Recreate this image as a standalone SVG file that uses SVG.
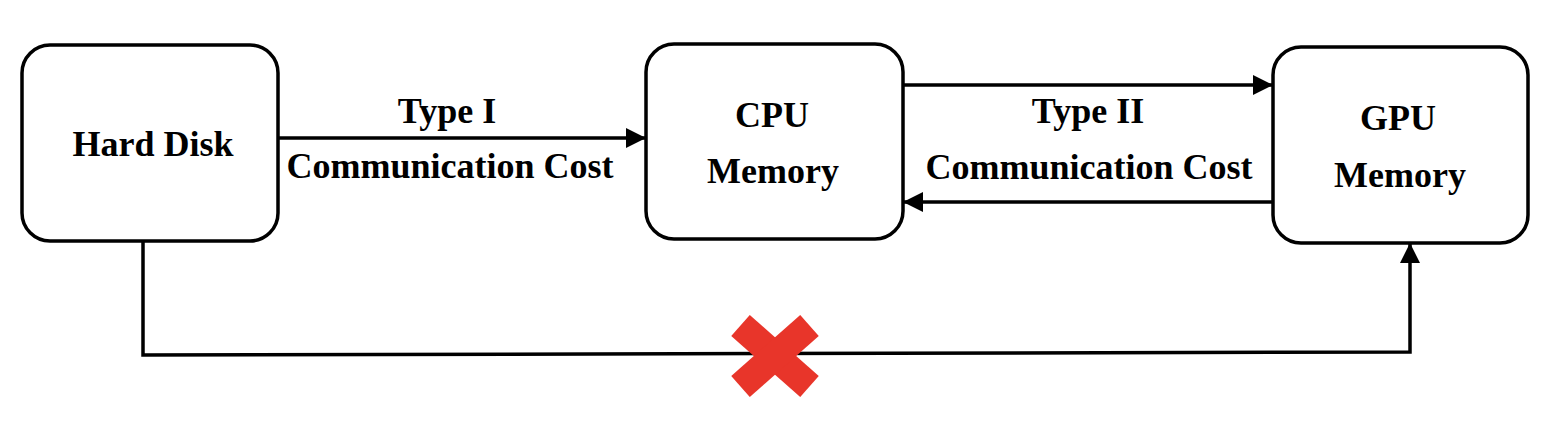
<svg xmlns="http://www.w3.org/2000/svg" width="1558" height="422" viewBox="0 0 1558 422">
<style>
.box{fill:#fff;stroke:#000;stroke-width:3.5}
.lbl{font-family:"Liberation Serif","Times New Roman",serif;font-weight:bold;font-size:36px;fill:#000;text-anchor:middle}
.edge{fill:none;stroke:#000;stroke-width:3.5}
</style>
<defs>
<marker id="ah" markerWidth="20" markerHeight="20" refX="20" refY="10" orient="auto" markerUnits="userSpaceOnUse">
<path d="M0,0 L20,10 L0,20 Z" fill="#000"/>
</marker>
</defs>
<rect width="1558" height="422" fill="#fff"/>
<g id="connectors">
<path class="edge" d="M279,138 L646,138" marker-end="url(#ah)"/>
<path class="edge" d="M903,85 L1273,85" marker-end="url(#ah)"/>
<path class="edge" d="M1273,202 L903,202" marker-end="url(#ah)"/>
<path class="edge" d="M143,241 L143,355 L1410,352 L1410,243" marker-end="url(#ah)"/>
<text class="lbl" x="447" y="123">Type I</text>
<text class="lbl" x="450" y="178">Communication Cost</text>
<text class="lbl" x="1088" y="123">Type II</text>
<text class="lbl" x="1089" y="179">Communication Cost</text>
</g>
<g id="cross">
<line x1="740.5" y1="325.5" x2="809.5" y2="386.5" stroke="#E8352A" stroke-width="28"/>
<line x1="809.5" y1="325.5" x2="740.5" y2="386.5" stroke="#E8352A" stroke-width="28"/>
</g>
<g id="hard-disk">
<rect class="box" x="22" y="45" width="256" height="196" rx="28"/>
<text class="lbl" x="153" y="156">Hard Disk</text>
</g>
<g id="cpu-memory">
<rect class="box" x="646" y="44" width="257" height="195" rx="28"/>
<text class="lbl" x="772" y="127">CPU</text>
<text class="lbl" x="773" y="183">Memory</text>
</g>
<g id="gpu-memory">
<rect class="box" x="1273" y="47" width="255" height="196" rx="28"/>
<text class="lbl" x="1398" y="130">GPU</text>
<text class="lbl" x="1400" y="187">Memory</text>
</g>
</svg>
